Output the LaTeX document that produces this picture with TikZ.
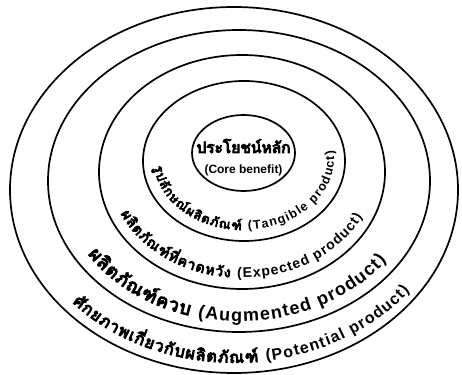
\documentclass[tikz,border=0pt]{standalone}
\usepackage{fontspec}
\usetikzlibrary{decorations.text}
\newfontfamily\thaifont[Script=Thai,FakeBold=6]{Loma}
\newfontfamily\latinfont{Liberation Sans}
\definecolor{ink}{HTML}{000000}

% label set along the lower half of a ring
% #1 centre, #2/#3 radii, #4/#5 start and end angle, #6 size,
% #7 thai part, #8 english part
\newcommand{\ringtext}[8]{%
  \path[decorate,decoration={text along path,text align=fit to path,
      text={|\thaifont\fontsize{#6}{#6}\selectfont|#7 |\latinfont\bfseries\fontsize{#6}{#6}\selectfont|#8}}]
    (#1) ++(#4:#2 and #3) arc[start angle=#4,end angle=#5,x radius=#2,y radius=#3];
}

\begin{document}
\begin{tikzpicture}[x=1pt,y=1pt,
    ring/.style={draw=ink,line width=1.7pt},
    core/.style={font=\thaifont\fontsize{#1}{#1}\selectfont,text=ink,inner sep=0pt}]
  \useasboundingbox (0,0) rectangle (462,374);

  % rings, outside in
  \draw[ring] (234,184) ellipse[x radius=224,y radius=183];
  \draw[ring] (239,193) ellipse[x radius=191,y radius=151];
  \draw[ring] (242,202) ellipse[x radius=143,y radius=117];
  \draw[ring] (244,213) ellipse[x radius=101,y radius=80];
  \draw[ring] (243.5,221) ellipse[x radius=51.5,y radius=38];

  \node[core=15.5] (benefit) at (243.5,228) {ประโยชน์หลัก};
  \node[inner sep=0pt,font=\latinfont\bfseries\fontsize{12}{12}\selectfont] (benefiten) at (243.5,204) {(Core benefit)};

  \ringtext{243.9,214.8}{90.1}{70.8}{186}{367}{12.5}{{รู}ป{ลั}กษ{ณ์}ผ{ลิ}ต{ภั}ณ{ฑ์}}{(Tangible product)}
  \ringtext{242.5,204.5}{133.3}{108.3}{204}{334}{14}{ผ{ลิ}ต{ภั}ณ{ฑ์}{ที่}คาดห{วั}ง}{(Expected product)}
  \ringtext{239.75,195.25}{179}{142.5}{212}{325}{18}{ผ{ลิ}ต{ภั}ณ{ฑ์}ควบ}{(Augmented product)}
  \ringtext{235.25,186.25}{215.75}{175}{221}{324}{16}{{ศั}กยภาพเ{กี่}ยว{กั}บผ{ลิ}ต{ภั}ณ{ฑ์}}{(Potential product)}
\end{tikzpicture}
\end{document}
